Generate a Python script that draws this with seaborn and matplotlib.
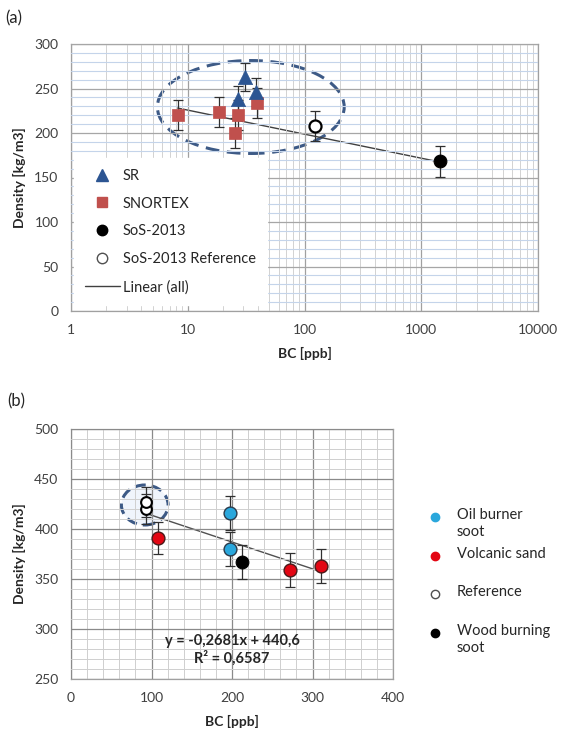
import numpy as np
import pandas as pd
import seaborn as sns
import matplotlib
matplotlib.use("Agg")
import matplotlib.pyplot as plt
from matplotlib.patches import Ellipse
from matplotlib.lines import Line2D
from matplotlib.ticker import MultipleLocator, LogLocator, FixedLocator, NullFormatter

# ---------------- data: panel (a) ----------------
sr_bc = [26.7, 30.7, 38.1]
sr_density = [238, 263, 246]
sr_err = [15, 16, 16]

snortex_bc = [8.2, 18.4, 25.2, 26.7, 38.9]
snortex_density = [220, 224, 200, 220, 234]
snortex_err = [17, 17, 17, 17, 17]

sos_bc = [1450]
sos_density = [168]
sos_err = [17]

sosref_bc = [122]
sosref_density = [208]
sosref_err = [17]

# straight-line fit against log10(BC): density = a + b * log10(BC)
fit_a_slope = -27.0
fit_a_intercept = 252.7

a_xticks = [1, 10, 100, 1000, 10000]
a_xticklabels = ["1", "10", "100", "1000", "10000"]
a_yticks = [0, 50, 100, 150, 200, 250, 300]

# ---------------- data: panel (b) ----------------
oil_bc = [197, 198]
oil_density = [380, 416]
oil_err = [17, 17]

volc_bc = [108, 272, 310]
volc_density = [391, 359, 363]
volc_err = [16, 17, 17]

ref_bc = [93, 93]
ref_density = [420, 427]
ref_err = [15, 15]

wood_bc = [212]
wood_density = [367]
wood_err = [17]

fit_b_slope = -0.2681
fit_b_intercept = 440.6
fit_b_r2 = 0.6587

b_xticks = [0, 100, 200, 300, 400]
b_yticks = [250, 300, 350, 400, 450, 500]

# ---------------- style ----------------
sns.set_theme(style="white")
plt.rcParams["font.family"] = ["Lato", "DejaVu Sans"]
plt.rcParams["axes.unicode_minus"] = False

TICK_COLOR = "#404040"
SPINE_COLOR = "#a0a0a0"

fig = plt.figure(figsize=(5.61, 7.35), dpi=100)
W, H = 561, 735


def px_axes(l, t, r, b):
    return fig.add_axes([l / W, 1 - b / H, (r - l) / W, (b - t) / H])


ax_a = px_axes(71, 44, 538, 311)
ax_b = px_axes(71, 429, 393, 679)


def style_axes(ax):
    for s in ax.spines.values():
        s.set_color(SPINE_COLOR)
        s.set_linewidth(0.9)
    ax.tick_params(axis="both", which="major", length=4, width=0.8,
                   color=SPINE_COLOR, labelcolor=TICK_COLOR, labelsize=10,
                   direction="out", pad=5)
    ax.tick_params(axis="both", which="minor", length=0)


def draw_errorbars(ax, x, y, e):
    ax.errorbar(x, y, yerr=e, fmt="none", ecolor="#303030", elinewidth=0.9,
                capsize=3.5, capthick=0.9, zorder=3)


# ================= panel (a) =================
ax = ax_a
ax.set_xscale("log")
ax.set_xlim(1, 10000)
ax.set_ylim(0, 300)
ax.xaxis.set_major_locator(FixedLocator(a_xticks))
ax.set_xticks(a_xticks, a_xticklabels)
ax.xaxis.set_minor_locator(LogLocator(base=10, subs=np.arange(2, 10)))
ax.xaxis.set_minor_formatter(NullFormatter())
ax.set_yticks(a_yticks)
ax.yaxis.set_minor_locator(MultipleLocator(10))
ax.grid(True, axis="y", which="major", color="#a6a6a6", lw=0.9)
ax.grid(True, axis="y", which="minor", color="#c4d4ea", lw=0.8)
ax.grid(True, axis="x", which="major", color="#a0a0a0", lw=0.9)
ax.grid(True, axis="x", which="minor", color="#d2d2d2", lw=0.7)
style_axes(ax)

ell_a = Ellipse((0.385, 0.764), 0.400, 0.348, transform=ax.transAxes,
                facecolor="none", edgecolor="#3d5a86", lw=2.2,
                linestyle=(0, (4.5, 2.5)), zorder=2)
ax.add_patch(ell_a)
ax.set_axisbelow(False)
for gl in ax.get_xgridlines() + ax.get_ygridlines():
    gl.set_zorder(1.5)

all_bc = snortex_bc + sr_bc + sosref_bc + sos_bc
xs = np.logspace(np.log10(min(all_bc)), np.log10(max(all_bc)), 60)
sns.lineplot(x=xs, y=fit_a_intercept + fit_a_slope * np.log10(xs), ax=ax,
             color="#404040", lw=1.0, zorder=2.5)

draw_errorbars(ax, snortex_bc, snortex_density, snortex_err)
draw_errorbars(ax, sr_bc, sr_density, sr_err)
draw_errorbars(ax, sos_bc, sos_density, sos_err)
draw_errorbars(ax, sosref_bc, sosref_density, sosref_err)

sns.scatterplot(x=snortex_bc, y=snortex_density, ax=ax, marker="s", s=80,
                color="#c0504d", edgecolor="#c0504d", linewidth=0.5, zorder=4)
sns.scatterplot(x=sr_bc, y=sr_density, ax=ax, marker="^", s=105,
                color="#2c5592", edgecolor="#2c5592", linewidth=0.5, zorder=4)
sns.scatterplot(x=sos_bc, y=sos_density, ax=ax, marker="o", s=85,
                color="black", edgecolor="black", zorder=4)
sns.scatterplot(x=sosref_bc, y=sosref_density, ax=ax, marker="o", s=75,
                color="white", edgecolor="black", linewidth=1.6, zorder=4)

handles_a = [
    Line2D([], [], ls="none", marker="^", ms=8, color="#2c5592"),
    Line2D([], [], ls="none", marker="s", ms=7.5, color="#c0504d"),
    Line2D([], [], ls="none", marker="o", ms=7.5, color="black"),
    Line2D([], [], ls="none", marker="o", ms=7.5, mfc="white", mec="#505050", mew=1.0),
    Line2D([], [], color="#404040", lw=1.0),
]
labels_a = ["SR", "SNORTEX", "SoS-2013", "SoS-2013 Reference", "Linear (all)"]
leg = ax.legend(handles_a, labels_a, loc="lower left", bbox_to_anchor=(0.0, 0.01),
                frameon=True, fontsize=10.5, handlelength=2.4, handletextpad=0.2,
                labelspacing=0.95, borderpad=0.75, borderaxespad=0.2, fancybox=False)
leg.get_frame().set_facecolor("white")
leg.get_frame().set_edgecolor("white")
leg.get_frame().set_alpha(1.0)
for t in leg.get_texts():
    t.set_color("#262626")

ax.set_xlabel("BC [ppb]", fontsize=10, fontweight="bold", color="#262626", labelpad=8)
ax.set_ylabel("Density [kg/m3]", fontsize=10, fontweight="bold", color="#262626", labelpad=6)

# ================= panel (b) =================
ax = ax_b
ax.set_xlim(0, 400)
ax.set_ylim(250, 500)
ax.set_xticks(b_xticks)
ax.set_yticks(b_yticks)
ax.xaxis.set_minor_locator(MultipleLocator(20))
ax.yaxis.set_minor_locator(MultipleLocator(10))
ax.grid(True, which="major", color="#8a8a8a", lw=0.9)
ax.grid(True, which="minor", color="#cfcfcf", lw=0.7)
style_axes(ax)

ell_b = Ellipse((91.6, 424), 58, 40, facecolor="#f0f5fc", edgecolor="none", zorder=1)
ax.add_patch(ell_b)
ell_b2 = Ellipse((91.6, 424), 58, 40, facecolor="none", edgecolor="#3d5a86",
                 lw=2.2, linestyle=(0, (3.5, 2)), zorder=2)
ax.add_patch(ell_b2)
ax.set_axisbelow(False)
for gl in ax.get_xgridlines() + ax.get_ygridlines():
    gl.set_zorder(1.5)

all_bc_b = oil_bc + volc_bc + ref_bc + wood_bc
xb = np.linspace(min(all_bc_b), max(all_bc_b), 20)
sns.lineplot(x=xb, y=fit_b_intercept + fit_b_slope * xb, ax=ax,
             color="#505050", lw=1.0, zorder=2.5)

draw_errorbars(ax, ref_bc, ref_density, ref_err)
draw_errorbars(ax, oil_bc, oil_density, oil_err)
draw_errorbars(ax, volc_bc, volc_density, volc_err)
draw_errorbars(ax, wood_bc, wood_density, wood_err)

sns.scatterplot(x=oil_bc, y=oil_density, ax=ax, marker="o", s=85,
                color="#2aa7dc", edgecolor="#2b3a4a", linewidth=1.0, zorder=4)
sns.scatterplot(x=volc_bc, y=volc_density, ax=ax, marker="o", s=85,
                color="#e30613", edgecolor="#4a1a1a", linewidth=1.0, zorder=4)
sns.scatterplot(x=wood_bc, y=wood_density, ax=ax, marker="o", s=85,
                color="black", edgecolor="black", zorder=4)
sns.scatterplot(x=ref_bc, y=ref_density, ax=ax, marker="o", s=60,
                color="white", edgecolor="black", linewidth=1.5, zorder=4)

sign = "-" if fit_b_slope < 0 else "+"
eq = f"y = {sign}{abs(fit_b_slope):.4f}x + {fit_b_intercept:.1f}".replace(".", ",")
r2 = f"R² = {fit_b_r2:.4f}".replace(".", ",")
ax.text(200, 288, eq, ha="center", va="center", fontsize=10.5, fontweight="bold", color="#262626")
ax.text(200, 271, r2, ha="center", va="center", fontsize=10.5, fontweight="bold", color="#262626")

ax.set_xlabel("BC [ppb]", fontsize=10, fontweight="bold", color="#262626", labelpad=8)
ax.set_ylabel("Density [kg/m3]", fontsize=10, fontweight="bold", color="#262626", labelpad=6)

# legend of panel (b), entries with two-line slots
legend_b = [
    ("Oil burner\nsoot", dict(mfc="#2aa7dc", mec="#2aa7dc")),
    ("Volcanic sand", dict(mfc="#e30613", mec="#e30613")),
    ("Reference", dict(mfc="white", mec="#505050")),
    ("Wood burning\nsoot", dict(mfc="black", mec="black")),
]
row_px = [517, 556, 594, 633]
for (lab, kw), ypx in zip(legend_b, row_px):
    fig.add_artist(Line2D([435 / W], [1 - ypx / H], ls="none", marker="o", ms=6,
                          mew=1.0, transform=fig.transFigure, **kw))
    fig.text(457 / W, 1 - (ypx - 9) / H, lab, ha="left", va="top", fontsize=10.5,
             color="#262626", linespacing=1.25)

fig.text(5 / W, 1 - 18 / H, "(a)", fontsize=12, va="center", ha="left", color="#262626")
fig.text(7 / W, 1 - 401 / H, "(b)", fontsize=12, va="center", ha="left", color="#262626")

fig.savefig("out.png", dpi=100)
